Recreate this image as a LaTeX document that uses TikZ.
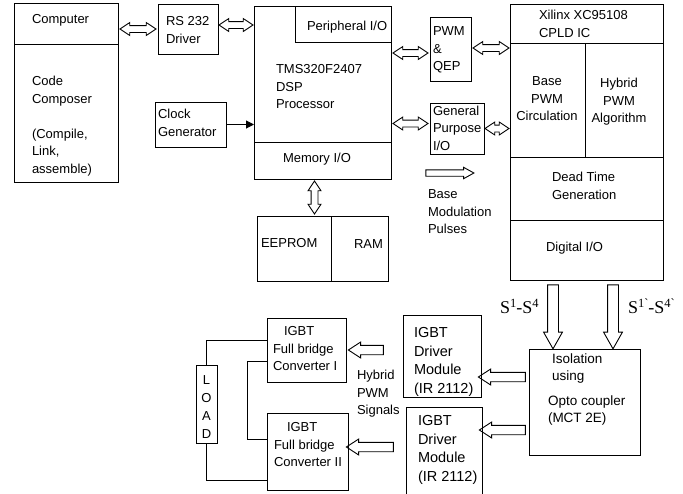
\documentclass[tikz,border=0pt]{standalone}
\usepackage{fontspec}
\setmainfont{Liberation Sans}
\newfontfamily\seriffont{Liberation Serif}
\usetikzlibrary{calc,fit,shapes.arrows,arrows.meta}
\newcommand\fsz[2]{\fontsize{#1}{#2}\selectfont}
\newcommand\sps[1]{\raisebox{0.3em}{\fsz{12.5}{12.5}#1}}
\tikzset{
  box/.style={draw, line width=1pt, inner sep=0pt, outer sep=0pt},
  wire/.style={draw, line width=1pt},
  txt/.style={inner sep=0pt, outer sep=0pt, align=left, anchor=west},
  ctxt/.style={inner sep=0pt, outer sep=0pt, align=center, anchor=center},
  stxt/.style={inner sep=0pt, outer sep=0pt, anchor=base west, font=\seriffont\fsz{18}{18}},
  arrbase/.style={draw, line width=0.9pt, inner xsep=0pt, outer sep=0pt},
  dblarr/.style={arrbase, double arrow, inner ysep=3pt, double arrow head extend=3pt, double arrow tip angle=67},
  bigarr/.style={arrbase, single arrow, inner ysep=5pt, single arrow head extend=4pt, single arrow tip angle=59},
  medarr/.style={arrbase, single arrow, inner ysep=4.25pt, single arrow head extend=3.25pt, single arrow tip angle=66},
  smlarr/.style={arrbase, single arrow, inner ysep=2.75pt, single arrow head extend=2.5pt, single arrow tip angle=58},
  hollow/.style={to path={let \p1=(\tikztostart), \p2=(\tikztotarget),
      \n1={atan2(\y2-\y1,\x2-\x1)}, \n2={veclen(\x2-\x1,\y2-\y1)} in
      node[#1, minimum height=\n2, rotate=\n1] at ($(\p1)!0.5!(\p2)$) {} (\tikztotarget)}},
}
\begin{document}
\begin{tikzpicture}[x=1pt,y=-1pt, font=\fsz{13}{17.5}]
\useasboundingbox (0,0) rectangle (683,493);
\fill[white] (0,0) rectangle (683,493);

% boxes
\node[box, fit={(14,3)(118,44)}] (comptop) {};
\node[box, fit={(14,44)(118,182)}] (compbot) {};
\node[box, fit={(158,4)(218,54)}] (rs) {};
\node[box, fit={(155,102)(226,147)}] (clk) {};
\node[box, fit={(254,6)(391,142)}] (dsp) {};
\node[box, fit={(295,6)(391,42)}] (per) {};
\node[box, fit={(254,142)(391,179)}] (dspmem) {};
\node[box, fit={(430,17)(471,81)}] (pwm) {};
\node[box, fit={(430,103)(484,154)}] (gp) {};
\node[box, fit={(510,4)(663,43)}] (xtitle) {};
\node[box, fit={(510,43)(585,157)}] (xbase) {};
\node[box, fit={(585,43)(663,157)}] (xhyb) {};
\node[box, fit={(510,157)(663,220)}] (xdead) {};
\node[box, fit={(510,220)(663,280)}] (xdio) {};
\node[box, fit={(257,216)(331,281)}] (eeprom) {};
\node[box, fit={(331,216)(388,281)}] (ram) {};
\node[box, fit={(529,349)(640,455)}] (iso) {};
\node[box, fit={(403,315)(481,397)}] (drv1) {};
\node[box, fit={(406,407)(482,498)}] (drv2) {};
\node[box, fit={(267,318)(346,382)}] (conv1) {};
\node[box, fit={(267,413)(348,490)}] (conv2) {};
\node[box, fit={(196,365)(217,443)}] (load) {};

% texts
\node[txt] (tcomp) at (32,20) {Computer};
\node[txt] (tcc) at (32,126) {Code\\Composer\\[17.5pt](Compile,\\Link,\\assemble)};
\node[txt] (trs) at (166,30) {RS 232\\Driver};
\node[txt] (tclk) at (158,123) {Clock\\Generator};
\node[txt] (tper) at (307,27) {Peripheral I/O};
\node[txt] (tdsp) at (276,87) {TMS320F2407\\DSP\\Processor};
\node[txt] (tmem) at (283,159) {Memory I/O};
\node[txt] (tpwm) at (433,50) {PWM\\\&\\QEP};
\node[txt] (tgp) at (433,128) {General\\Purpose\\I/O};
\node[txt] (txil) at (539,24) {Xilinx XC95108\\CPLD IC};
\node[ctxt] (tbase) at (547,99) {Base\\PWM\\Circulation};
\node[ctxt] (thyb) at (619,102) {Hybrid\\PWM\\Algorithm};
\node[txt] (tdead) at (552,186) {Dead Time\\Generation};
\node[txt] (tdio) at (546,248) {Digital I/O};
\node[txt] (tbmp) at (428,212) {Base\\Modulation\\Pulses};
\node[txt] (tee) at (261,243) {EEPROM};
\node[txt] (tram) at (354,244) {RAM};
\node[stxt] (ts1) at (500,313) {S\sps{1}-S\sps{4}};
\node[stxt] (ts2) at (628,313) {S\sps{1\textasciigrave}-S\sps{4\textasciigrave}};
\node[txt, font=\fsz{13.5}{17}] (tiso1) at (552,369) {Isolation\\using};
\node[txt, font=\fsz{13.5}{17}] (tiso2) at (548,410) {Opto coupler\\(MCT 2E)};
\node[txt, font=\fsz{14.5}{18.5}] (tdrv1) at (414,362) {IGBT\\Driver\\Module\\(IR 2112)};
\node[txt, font=\fsz{14.5}{18.5}] (tdrv2) at (418,450) {IGBT\\Driver\\Module\\(IR 2112)};
\node[txt] (tconv1) at (273,349) {\hspace*{11pt}IGBT\\Full bridge\\Converter I};
\node[txt] (tconv2) at (274,445) {\hspace*{13pt}IGBT\\Full bridge\\Converter II};
\node[txt] (thps) at (357,394) {Hybrid\\PWM\\Signals};
\node[ctxt, font=\fsz{13}{18}] (tload) at (206.5,407) {L\\O\\A\\D};

% hollow arrows
\path ($(comptop.east |- rs.west)+(2,0)$) to[hollow=dblarr] ($(rs.west)+(-2,0)$);
\path ($(rs.east)+(1,-4)$) to[hollow=dblarr] ($(rs.east -| dsp.west)+(-1,-4)$);
\path ($(dsp.east |- pwm.west)+(2,4)$) to[hollow=dblarr] ($(pwm.west)+(-2,4)$);
\path ($(pwm.east)+(2,-1)$) to[hollow=dblarr] ($(pwm.east -| xbase.west)+(-1,-1)$);
\path ($(dsp.east |- gp.west)+(2,-5)$) to[hollow=dblarr] ($(gp.west)+(-2,-5)$);
\path ($(gp.east)+(1,0)$) to[hollow=dblarr] ($(gp.east -| xbase.west)+(-1,0)$);
\coordinate (mv) at ($(dspmem.south)+(-8,0)$);
\path ($(mv)+(0,2)$) to[hollow=dblarr] ($(mv |- eeprom.north)+(0,-2)$);
\coordinate (bm1) at (423,173);
\coordinate (bm2) at (471,173);
\path (bm1) to[hollow=smlarr] (bm2);
\coordinate (d1) at ($(xdio.south)+(-33.5,0)$);
\coordinate (d2) at ($(xdio.south)+(26.5,0)$);
\path (d1) to[hollow=bigarr] ($(d1 |- iso.north)+(0,-5)$);
\path (d2) to[hollow=bigarr] ($(d2 |- iso.north)+(0,-5)$);
\path ($(iso.west)+(0,-25)$) to[hollow=medarr] ($(iso.west -| drv1.east)+(1,-25)$);
\path ($(iso.west)+(0,28)$) to[hollow=medarr] ($(iso.west -| drv2.east)+(1,28)$);
\path ($(drv1.west |- conv1.east)+(-16,0)$) to[hollow=medarr] ($(conv1.east)+(6,0)$);
\path ($(drv2.west |- conv2.east)+(-9,-4.5)$) to[hollow=medarr] ($(conv2.east)+(2,-4.5)$);

% clock arrow
\draw[line width=1pt, -{Triangle[length=8pt,width=8pt]}] (clk.east) -- (clk.east -| dsp.west);

% load wiring
\draw[wire] (load.north) |- ($(conv1.west)+(0,-10)$);
\draw[wire] ($(conv1.west)+(0,11)$) -- ++(-20,0) |- ($(conv2.west)+(0,-12.5)$);
\draw[wire] (load.south) |- ($(conv2.west)+(0,28.5)$);
\end{tikzpicture}
\end{document}
